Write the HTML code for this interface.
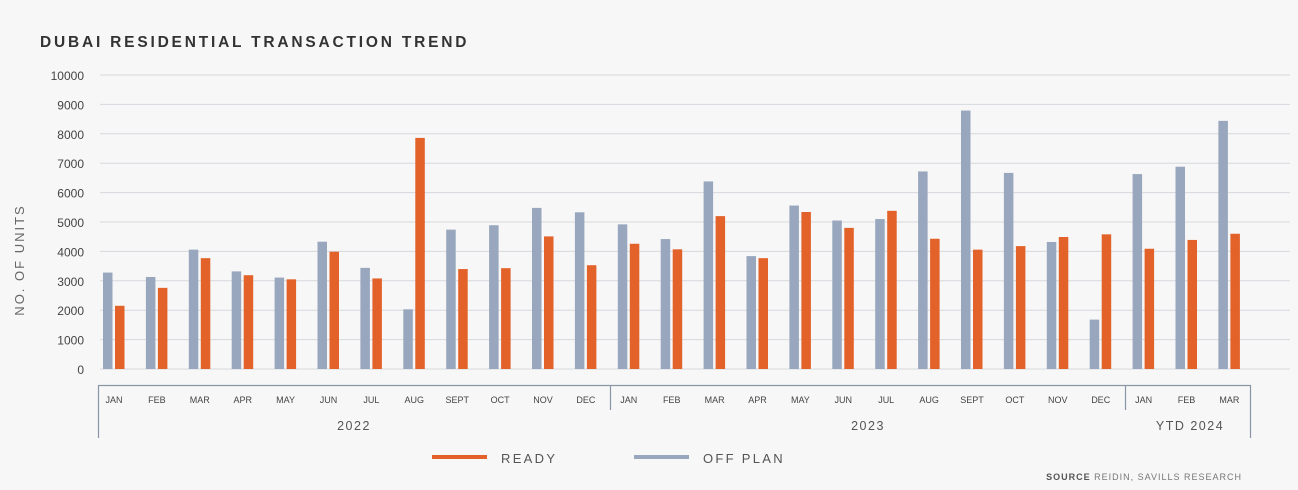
<html><head><style>body{margin:0;background:#f7f7f7;}</style></head><body>
<svg width="1298" height="490" xmlns="http://www.w3.org/2000/svg" font-family="Liberation Sans, sans-serif">
<rect width="1298" height="490" fill="#f7f7f7"/>
<text x="40" y="47" font-size="15.5" font-weight="bold" fill="#333" letter-spacing="2.8">DUBAI RESIDENTIAL TRANSACTION TREND</text>
<g id="grid"></g>
<text transform="translate(24,260) rotate(-90)" text-anchor="middle" font-size="13" fill="#666" letter-spacing="2">NO. OF UNITS</text>
<g stroke="#8a96a6" stroke-width="1.2" fill="none">
<path d="M98.5 438 V385.5 H1250.5 V438"/>
<path d="M610.5 385 V410 M1125.5 385 V410"/>
</g>
<g font-size="12.5" fill="#555" letter-spacing="1.5" text-anchor="middle">
<text x="354" y="430">2022</text><text x="868" y="430">2023</text><text x="1190" y="430">YTD 2024</text>
</g>
<line x1="432" y1="457" x2="487" y2="457" stroke="#e2622a" stroke-width="4"/>
<text x="501" y="463" font-size="13" fill="#555" letter-spacing="2.3">READY</text>
<line x1="634" y1="457" x2="689" y2="457" stroke="#98a7bd" stroke-width="4"/>
<text x="703" y="463" font-size="13" fill="#555" letter-spacing="2.3">OFF PLAN</text>
<text x="1242" y="480" text-anchor="end" font-size="9" fill="#777" letter-spacing="1"><tspan font-weight="bold" fill="#555">SOURCE</tspan> REIDIN, SAVILLS RESEARCH</text>
<g id="bars"></g>
</svg>
<script>
var ns="http://www.w3.org/2000/svg";
function el(p,t,a,txt){var e=document.createElementNS(ns,t);for(var k in a)e.setAttribute(k,a[k]);if(txt!=null)e.textContent=txt;p.appendChild(e);return e;}
var g=document.getElementById('grid'),b=document.getElementById('bars');
var y0=369,k=0.0294;
for(var i=0;i<=10;i++){var y=y0-i*1000*k;el(g,'line',{x1:100,x2:1290,y1:y,y2:y,stroke:'#d5d8de','stroke-width':1});
el(g,'text',{x:84,y:y+5,'text-anchor':'end','font-size':12,fill:'#444'},String(i*1000));}
var off=[3280,3130,4060,3320,3110,4330,3440,2030,4740,4890,5480,5330,4920,4420,6380,3840,5560,5050,5100,6720,8790,6670,4320,1680,6630,6880,8440];
var rdy=[2150,2760,3770,3190,3050,3990,3080,7860,3400,3430,4510,3530,4260,4070,5200,3770,5340,4800,5380,4430,4060,4180,4490,4580,4090,4390,4600];
var m=['JAN','FEB','MAR','APR','MAY','JUN','JUL','AUG','SEPT','OCT','NOV','DEC','JAN','FEB','MAR','APR','MAY','JUN','JUL','AUG','SEPT','OCT','NOV','DEC','JAN','FEB','MAR'];
for(var i=0;i<27;i++){var x=103+i*42.9;
el(b,'rect',{x:x,y:y0-off[i]*k,width:9.5,height:off[i]*k,fill:'#98a7bd'});
el(b,'rect',{x:x+12,y:y0-rdy[i]*k,width:9.5,height:rdy[i]*k,fill:'#e2622a'});
el(b,'text',{x:x+11,y:403,'text-anchor':'middle','font-size':9,fill:'#444'},m[i]);}
</script>
</body></html>
